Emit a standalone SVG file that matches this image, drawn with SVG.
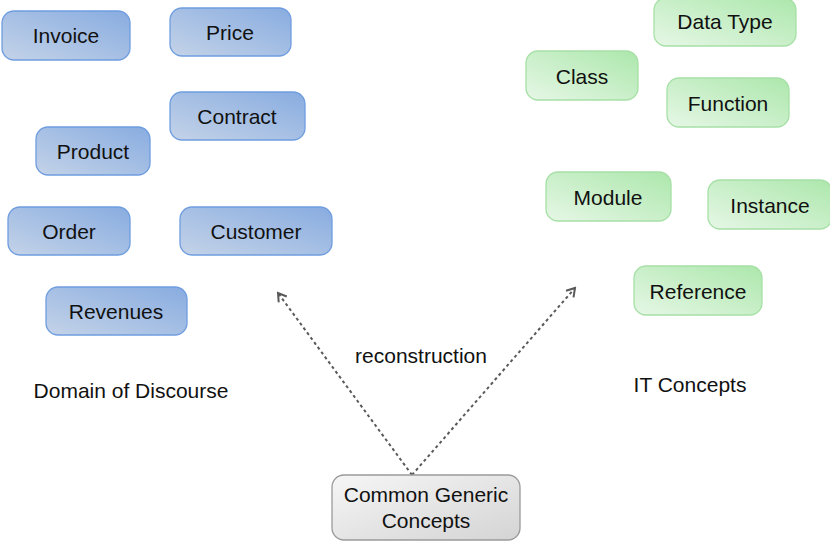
<svg xmlns="http://www.w3.org/2000/svg" width="830" height="545" viewBox="0 0 830 545">
<style>
text{font-family:"Liberation Sans",Arial,sans-serif;font-size:21px;fill:#111;text-anchor:middle}
.b{fill:url(#gb);stroke:#6f9de0;stroke-width:1.3}
.g{fill:url(#gg);stroke:#a6e0a6;stroke-width:1.3}
.c{fill:url(#gc);stroke:#9a9a9a;stroke-width:1.3}
.e{fill:none;stroke:#595959;stroke-width:2;stroke-dasharray:3 3}
</style>
<defs>
<linearGradient id="gb" x1="0" y1="1" x2="1" y2="0"><stop offset="0" stop-color="#c4d3e8"/><stop offset="1" stop-color="#88ace0"/></linearGradient>
<linearGradient id="gg" x1="0" y1="1" x2="1" y2="0"><stop offset="0" stop-color="#e6f7e6"/><stop offset="1" stop-color="#ace7ac"/></linearGradient>
<linearGradient id="gc" x1="0" y1="0" x2="1" y2="1"><stop offset="0" stop-color="#f6f6f6"/><stop offset="1" stop-color="#d4d4d4"/></linearGradient>
<marker id="ah" viewBox="0 0 12 12" refX="10" refY="6" markerWidth="12" markerHeight="12" markerUnits="userSpaceOnUse" orient="auto"><path d="M2,1 L10,6 L2,11" fill="none" stroke="#595959" stroke-width="2"/></marker>
</defs>
<g id="connectors">
<line class="e" x1="412" y1="475" x2="278" y2="293" marker-end="url(#ah)"/>
<line class="e" x1="412" y1="475" x2="575" y2="288" marker-end="url(#ah)"/>
</g>
<g id="invoice"><rect class="b" x="2" y="11" width="128" height="49" rx="12"/><text x="66" y="43">Invoice</text></g>
<g id="price"><rect class="b" x="170" y="8" width="121" height="48" rx="12"/><text x="230" y="40">Price</text></g>
<g id="contract"><rect class="b" x="170" y="92" width="135" height="48" rx="12"/><text x="237" y="124">Contract</text></g>
<g id="product"><rect class="b" x="36" y="127" width="114" height="48" rx="12"/><text x="93" y="159">Product</text></g>
<g id="order"><rect class="b" x="8" y="207" width="122" height="48" rx="12"/><text x="69" y="239">Order</text></g>
<g id="customer"><rect class="b" x="180" y="207" width="152" height="48" rx="12"/><text x="256" y="239">Customer</text></g>
<g id="revenues"><rect class="b" x="46" y="287" width="141" height="48" rx="12"/><text x="116" y="319">Revenues</text></g>
<g id="datatype"><rect class="g" x="654" y="-2" width="142" height="48" rx="12"/><text x="725" y="29">Data Type</text></g>
<g id="class"><rect class="g" x="526" y="51" width="112" height="49" rx="12"/><text x="582" y="84">Class</text></g>
<g id="function"><rect class="g" x="667" y="78" width="122" height="49" rx="12"/><text x="728" y="111">Function</text></g>
<g id="module"><rect class="g" x="546" y="172" width="125" height="49" rx="12"/><text x="608" y="205">Module</text></g>
<g id="instance"><rect class="g" x="708" y="180" width="124" height="49" rx="12"/><text x="770" y="213">Instance</text></g>
<g id="reference"><rect class="g" x="634" y="266" width="128" height="49" rx="12"/><text x="698" y="299">Reference</text></g>
<g id="common"><rect class="c" x="332" y="475" width="188" height="65" rx="12"/><text x="426" y="502">Common Generic</text><text x="426" y="528">Concepts</text></g>
<text x="421" y="363">reconstruction</text>
<text x="131" y="398">Domain of Discourse</text>
<text x="690" y="392">IT Concepts</text>
</svg>
